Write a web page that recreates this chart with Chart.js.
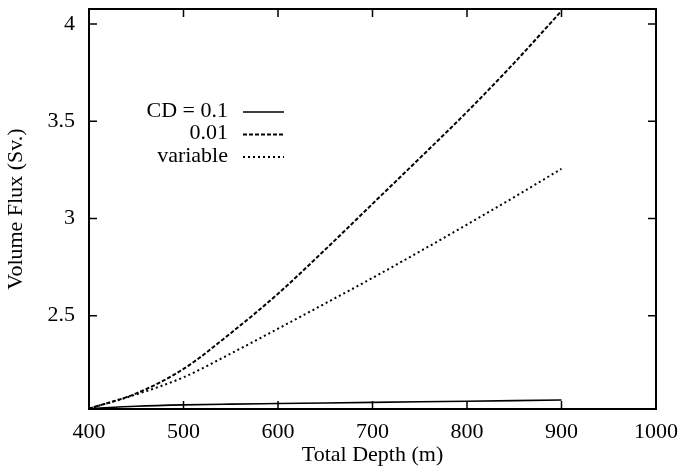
<!DOCTYPE html>
<html>
<head>
<meta charset="utf-8">
<script src="https://cdn.jsdelivr.net/npm/chart.js@4/dist/chart.umd.min.js"></script>
<style>
  html, body { margin: 0; padding: 0; background: #fff; }
  canvas { display: block; }
</style>
</head>
<body>
<canvas id="c" width="680" height="469"></canvas>
<script>
// Total depth (m) at which the volume flux was evaluated
const depths = [400, 450, 500, 550, 600, 650, 700, 750, 800, 850, 900];

// Volume flux (Sv.) for each drag-coefficient case
const fluxCd01 = [2.022, 2.034, 2.041, 2.045, 2.048, 2.051, 2.054, 2.057, 2.060, 2.063, 2.066];
const fluxCd001 = [2.022, 2.100, 2.226, 2.410, 2.613, 2.840, 3.075, 3.310, 3.548, 3.800, 4.067];
const fluxVariable = [2.022, 2.095, 2.183, 2.305, 2.433, 2.563, 2.694, 2.830, 2.968, 3.110, 3.255];

// Axis ticks
const xTicks = [400, 500, 600, 700, 800, 900, 1000];
const yTicks = [2.5, 3, 3.5, 4];

// Legend entries
const legendLabels = ['CD = 0.1', '0.01', 'variable'];

const serif = '"Liberation Serif", "Times New Roman", serif';

const pts = arr => depths.map((d, i) => ({ x: d, y: arr[i] }));

// Frame, inward tick marks and the in-plot legend
const framePlugin = {
  id: 'frame',
  afterDatasetsDraw(chart) {
    const { ctx, chartArea: a, scales: { x, y } } = chart;
    ctx.save();
    ctx.strokeStyle = '#000';
    ctx.lineWidth = 2;
    ctx.strokeRect(a.left, a.top, a.right - a.left, a.bottom - a.top);
    ctx.lineWidth = 1.5;
    ctx.beginPath();
    xTicks.forEach(v => {
      const px = x.getPixelForValue(v);
      ctx.moveTo(px, a.bottom); ctx.lineTo(px, a.bottom - 8);
      ctx.moveTo(px, a.top); ctx.lineTo(px, a.top + 8);
    });
    yTicks.forEach(v => {
      const py = y.getPixelForValue(v);
      ctx.moveTo(a.left, py); ctx.lineTo(a.left + 8, py);
      ctx.moveTo(a.right, py); ctx.lineTo(a.right - 8, py);
    });
    ctx.stroke();

    // legend
    ctx.font = '22px ' + serif;
    ctx.fillStyle = '#000';
    ctx.textAlign = 'right';
    ctx.textBaseline = 'middle';
    const ds = chart.data.datasets;
    legendLabels.forEach((lab, i) => {
      const yy = 111 + i * 22.5;
      ctx.fillText(lab, 228, yy);
      ctx.beginPath();
      ctx.lineWidth = ds[i].borderWidth;
      ctx.setLineDash(ds[i].borderDash || []);
      ctx.moveTo(243, yy + 1);
      ctx.lineTo(284, yy + 1);
      ctx.stroke();
    });
    ctx.restore();
  }
};

new Chart(document.getElementById('c'), {
  type: 'line',
  data: {
    datasets: [
      { label: legendLabels[0], data: pts(fluxCd01), borderColor: '#000', borderWidth: 1.6, borderDash: [] },
      { label: legendLabels[1], data: pts(fluxCd001), borderColor: '#000', borderWidth: 2, borderDash: [4, 2] },
      { label: legendLabels[2], data: pts(fluxVariable), borderColor: '#000', borderWidth: 2, borderDash: [2, 3] }
    ]
  },
  options: {
    responsive: false,
    animation: false,
    devicePixelRatio: 1,
    layout: { padding: { top: 9, right: 24, bottom: 0, left: 0 } },
    elements: {
      point: { radius: 0 },
      line: { cubicInterpolationMode: 'monotone', fill: false }
    },
    plugins: { legend: { display: false }, tooltip: { enabled: false } },
    scales: {
      x: {
        type: 'linear',
        min: 400, max: 1000,
        afterBuildTicks: s => { s.ticks = xTicks.map(v => ({ value: v })); },
        afterFit: s => { s.height = 60; s.paddingLeft = 0; s.paddingRight = 0; },
        grid: { display: false, drawTicks: false },
        border: { display: false },
        ticks: { color: '#000', font: { family: serif, size: 22 }, padding: 10, maxRotation: 0, autoSkip: false, callback: v => String(v) },
        title: { display: true, text: 'Total Depth (m)', color: '#000', font: { family: serif, size: 22 }, padding: { top: 0, bottom: 1 } }
      },
      y: {
        type: 'linear',
        min: 2.02, max: 4.077,
        afterBuildTicks: s => { s.ticks = yTicks.map(v => ({ value: v })); },
        afterFit: s => { s.width = 89; s.paddingTop = 0; s.paddingBottom = 0; },
        grid: { display: false, drawTicks: false },
        border: { display: false },
        ticks: { color: '#000', font: { family: serif, size: 22 }, padding: 14, autoSkip: false, callback: v => String(v) },
        title: { display: true, text: 'Volume Flux (Sv.)', color: '#000', font: { family: serif, size: 22 }, padding: { top: 3, bottom: 0 } }
      }
    }
  },
  plugins: [framePlugin]
});
</script>
</body>
</html>
